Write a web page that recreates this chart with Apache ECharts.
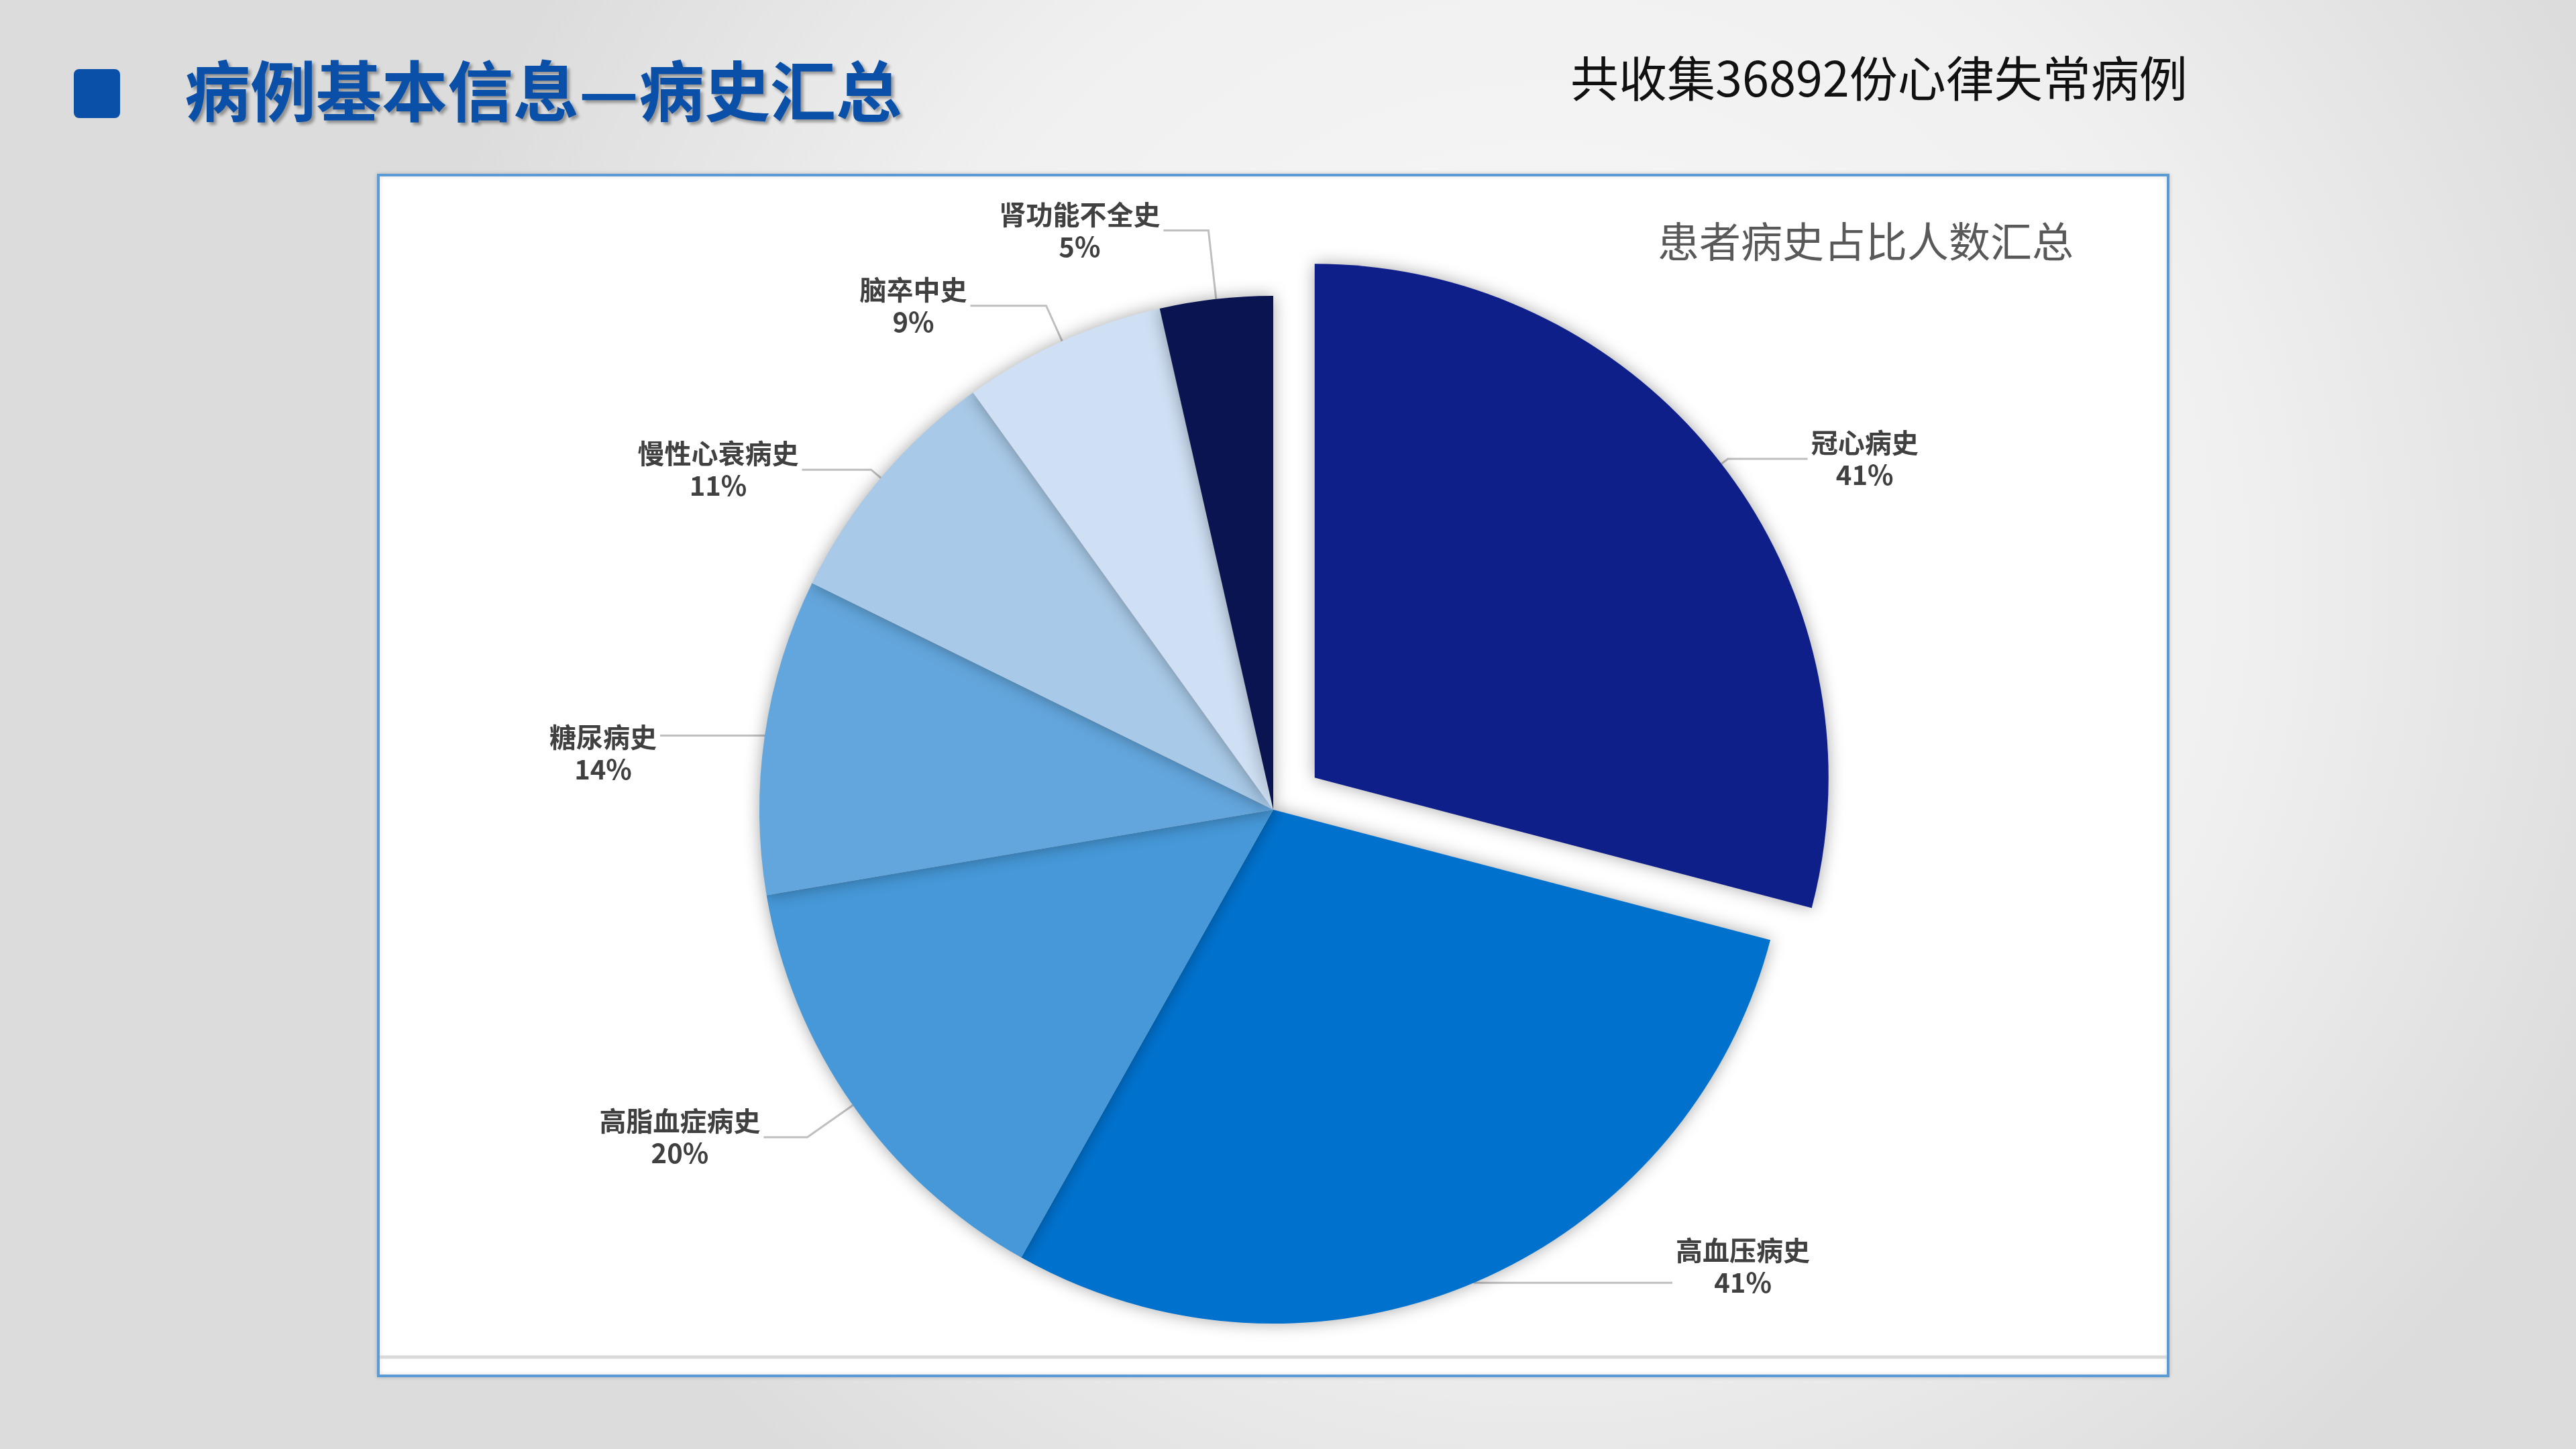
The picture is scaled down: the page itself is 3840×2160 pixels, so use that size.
<!DOCTYPE html>
<html>
<head>
<meta charset="utf-8">
<script src="https://cdn.jsdelivr.net/npm/echarts@6/dist/echarts.min.js"></script>
<style>
  html, body { margin: 0; padding: 0; }
  #main { width: 3840px; height: 2160px; }
</style>
</head>
<body>
<div id="main"></div>
<script>
// 病史名称与占比（%）
const categories = ['冠心病史', '高血压病史', '高脂血症病史', '糖尿病史', '慢性心衰病史', '脑卒中史', '肾功能不全史'];
const percents = [41, 41, 20, 14, 11, 9, 5];

const pageTitle = '病例基本信息—病史汇总';
const subTitle = '共收集36892份心律失常病例';
const chartTitle = '患者病史占比人数汇总';

// 样式：扇区颜色，引导线长度（径向 / 水平），标签上下微调
const colors = ['#0F1F8A', '#0072CE', '#4698D8', '#63A6DD', '#A8C9E7', '#CFE0F4', '#0A1450'];
const lineLen1 = [12, 0, 83, 0, 19, 58, 103];
const lineLen2 = [119, 296, 65, 156, 103, 113, 67];
const labelShiftY = [0, -24, 0, 26, 0, 0, 0];

let myChart = echarts.init(document.getElementById('main'));

let pieData = [];
for (let i = 0; i < categories.length; i++) {
    pieData.push({
        name: categories[i],
        value: percents[i],
        selected: i === 0,
        itemStyle: { color: colors[i] },
        label: { offset: [0, labelShiftY[i]] },
        labelLine: { length: lineLen1[i], length2: lineLen2[i] }
    });
}

const labelFont = {
    fontFamily: 'Noto Sans CJK SC', fontWeight: 'bold', fontSize: 40,
    lineHeight: 48, color: '#404040', align: 'center'
};

myChart.setOption({
    backgroundColor: {
        type: 'radial', x: 0.6, y: 0.4, r: 0.8,
        colorStops: [
            { offset: 0, color: '#F9F9F9' },
            { offset: 0.6, color: '#F0F0F0' },
            { offset: 1, color: '#DCDCDC' }
        ]
    },
    title: [
        {
            text: pageTitle,
            left: 270, top: 82,
            textStyle: {
                fontFamily: 'Noto Sans CJK SC', fontWeight: 'bold', fontSize: 98,
                color: '#0A50A8',
                textShadowColor: 'rgba(0,0,0,0.35)', textShadowBlur: 4,
                textShadowOffsetX: 4, textShadowOffsetY: 4
            }
        },
        {
            text: subTitle,
            left: 2336, top: 76,
            textStyle: {
                fontFamily: 'Noto Sans CJK SC', fontWeight: 'normal', fontSize: 72,
                color: '#111111'
            }
        },
        {
            text: chartTitle,
            left: 2466, top: 324,
            textStyle: {
                fontFamily: 'Noto Sans CJK SC', fontWeight: 'normal', fontSize: 62,
                color: '#595959'
            }
        }
    ],
    graphic: [
        {
            type: 'rect', z: -10,
            shape: { x: 110, y: 103, width: 69, height: 73, r: 8 },
            style: { fill: '#0A50A8' }
        },
        {
            type: 'rect', z: -10,
            shape: { x: 564, y: 261, width: 2668, height: 1790 },
            style: { fill: '#FFFFFF', stroke: '#5B9BD5', lineWidth: 4,
                     shadowColor: 'rgba(0,0,0,0.15)', shadowBlur: 6 }
        },
        {
            type: 'line', z: -9,
            shape: { x1: 566, y1: 2023, x2: 3230, y2: 2023 },
            style: { stroke: '#D9D9D9', lineWidth: 5 }
        }
    ],
    series: [
        {
            type: 'pie',
            center: [1898, 1207],
            radius: 766,
            startAngle: 90,
            clockwise: true,
            selectedMode: 'single',
            selectedOffset: 78,
            avoidLabelOverlap: false,
            data: pieData,
            itemStyle: {
                shadowColor: 'rgba(0,0,0,0.35)',
                shadowBlur: 24
            },
            label: {
                show: true,
                position: 'outside',
                distanceToLabelLine: 5,
                formatter: function (p) {
                    let key = 'w' + p.name.length;
                    return '{' + key + '|' + p.name + '}\n{' + key + '|' + p.value + '%}';
                },
                rich: {
                    w4: Object.assign({ width: 160 }, labelFont),
                    w5: Object.assign({ width: 200 }, labelFont),
                    w6: Object.assign({ width: 240 }, labelFont)
                },
                color: '#404040'
            },
            labelLine: {
                show: true,
                lineStyle: { color: '#BFBFBF', width: 3 }
            },
            emphasis: { disabled: true }
        }
    ]
});
</script>
</body>
</html>
